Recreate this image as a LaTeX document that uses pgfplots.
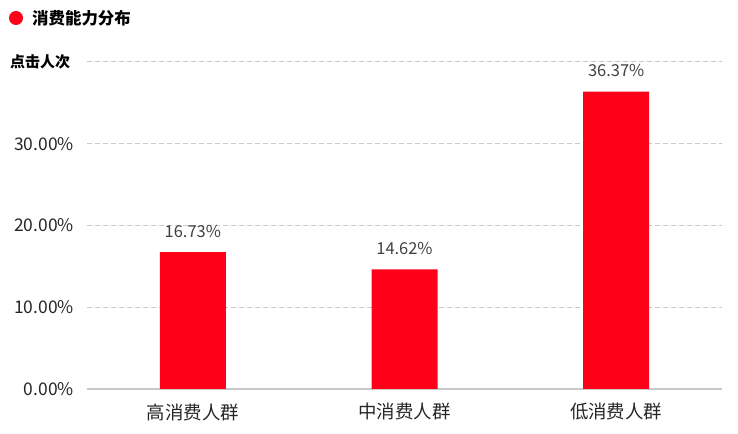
\documentclass[border=0pt]{standalone}
\usepackage{pgfplots}
\pgfplotsset{compat=1.18}
\usepackage{fontspec}
\setmainfont{Noto Sans CJK SC}
\definecolor{barred}{RGB}{255,0,25}
\definecolor{gridgray}{RGB}{200,200,200}
\definecolor{txtgray}{RGB}{64,64,64}
\begin{document}
\begin{tikzpicture}[x=1bp,y=1bp]
\useasboundingbox (0,0) rectangle (738,434);
\fill[barred] (16,416) circle (7);
\node[anchor=west,inner sep=0,font=\fontsize{16.5}{16.5}\selectfont\bfseries] at (32,416) {消费能力分布};
\node[anchor=west,inner sep=0,font=\fontsize{15}{15}\selectfont\bfseries] at (10,372) {点击人次};
\begin{axis}[
  at={(87bp,45bp)}, anchor=south west,
  scale only axis, width=635bp, height=327bp,
  xmin=-0.5, xmax=2.5, ymin=0, ymax=40,
  xtick={0,1,2}, xticklabels={高消费人群,中消费人群,低消费人群},
  ytick={0,10,20,30,40}, yticklabels={0.00\%,10.00\%,20.00\%,30.00\%,},
  axis x line*=bottom, axis y line*=left,
  y axis line style={draw=none},
  x axis line style={draw=gridgray, line width=1.2bp, -},
  major tick length=0pt,
  ymajorgrids, grid style={gridgray, line width=1bp, dash pattern=on 5bp off 3bp},
  yticklabel style={anchor=east, inner sep=0pt, xshift=-13bp, font=\fontsize{17.5}{17.5}\selectfont, text=black!85},
  xticklabel style={anchor=center, inner sep=0pt, yshift=-23bp, font=\fontsize{18.5}{18.5}\selectfont, text=black!85},
  ybar, bar width=66bp,
  nodes near coords={\pgfmathprintnumber[fixed,fixed zerofill,precision=2]{\pgfplotspointmeta}\%},
  every node near coord/.append style={anchor=center, yshift=21bp, font=\fontsize{16.5}{16.5}\selectfont, text=txtgray},
  /pgf/number format/assume math mode=true,
]
\addplot[fill=barred, draw=none] coordinates {(0,16.73) (1,14.62) (2,36.37)};
\end{axis}
\end{tikzpicture}
\end{document}
